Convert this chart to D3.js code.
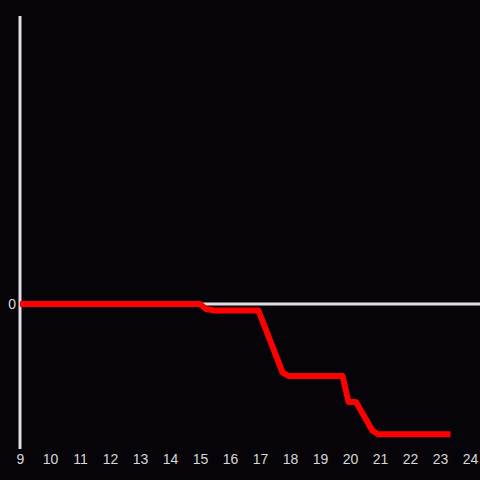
<!DOCTYPE html>
<html><head><meta charset="utf-8">
<script src="https://cdn.jsdelivr.net/npm/d3@7/dist/d3.min.js"></script>
<style>html,body{margin:0;padding:0;background:#060409;}svg{display:block;}</style>
</head><body>
<svg id="c" width="480" height="480"></svg>
<script>
const xTicks = [9,10,11,12,13,14,15,16,17,18,19,20,21,22,23,24];
const hours  = [9, 15, 15.2, 15.5, 16.95, 17.75, 17.95, 19.75, 19.95, 20.2, 20.75, 20.95, 23.35];
const values = [0, 0, -3.5, -4.6, -4.6, -47.5, -50, -50, -68, -68, -88, -90.5, -90.5];
const yTicks = [0];

const svg = d3.select("#c");
svg.append("rect").attr("width",480).attr("height",480).attr("fill","#060409");
const x = d3.scaleLinear().domain([9,24]).range([20,470]);
const y = d3.scaleLinear().domain([-100,200]).range([448,16]);

// zero line
svg.append("line").attr("x1",x(9)).attr("x2",480).attr("y1",y(0)).attr("y2",y(0))
  .attr("stroke","#e0e0e0").attr("stroke-width",3);
// y axis line
svg.append("line").attr("x1",x(9)).attr("x2",x(9)).attr("y1",16).attr("y2",449)
  .attr("stroke","#e0e0e0").attr("stroke-width",3);

const xa = svg.append("g").attr("transform","translate(0,449)")
  .call(d3.axisBottom(x).tickValues(xTicks).tickFormat(d3.format("d")).tickSize(0).tickPadding(5));
xa.select(".domain").remove();
xa.selectAll("text").attr("fill","#d8d8d8").attr("font-size",14).attr("font-family","Liberation Sans, Arial, sans-serif");

const ya = svg.append("g").attr("transform","translate(18,0)")
  .call(d3.axisLeft(y).tickValues(yTicks).tickSize(0).tickPadding(2));
ya.select(".domain").remove();
ya.selectAll("text").attr("fill","#d8d8d8").attr("font-size",14).attr("font-family","Liberation Sans, Arial, sans-serif");

const line = d3.line().x((d,i)=>x(hours[i])).y((d,i)=>y(values[i]));
svg.append("path").datum(values).attr("d",line).attr("fill","none")
  .attr("stroke","#ff0000").attr("stroke-width",6).attr("stroke-linejoin","round");
</script>
</body></html>
